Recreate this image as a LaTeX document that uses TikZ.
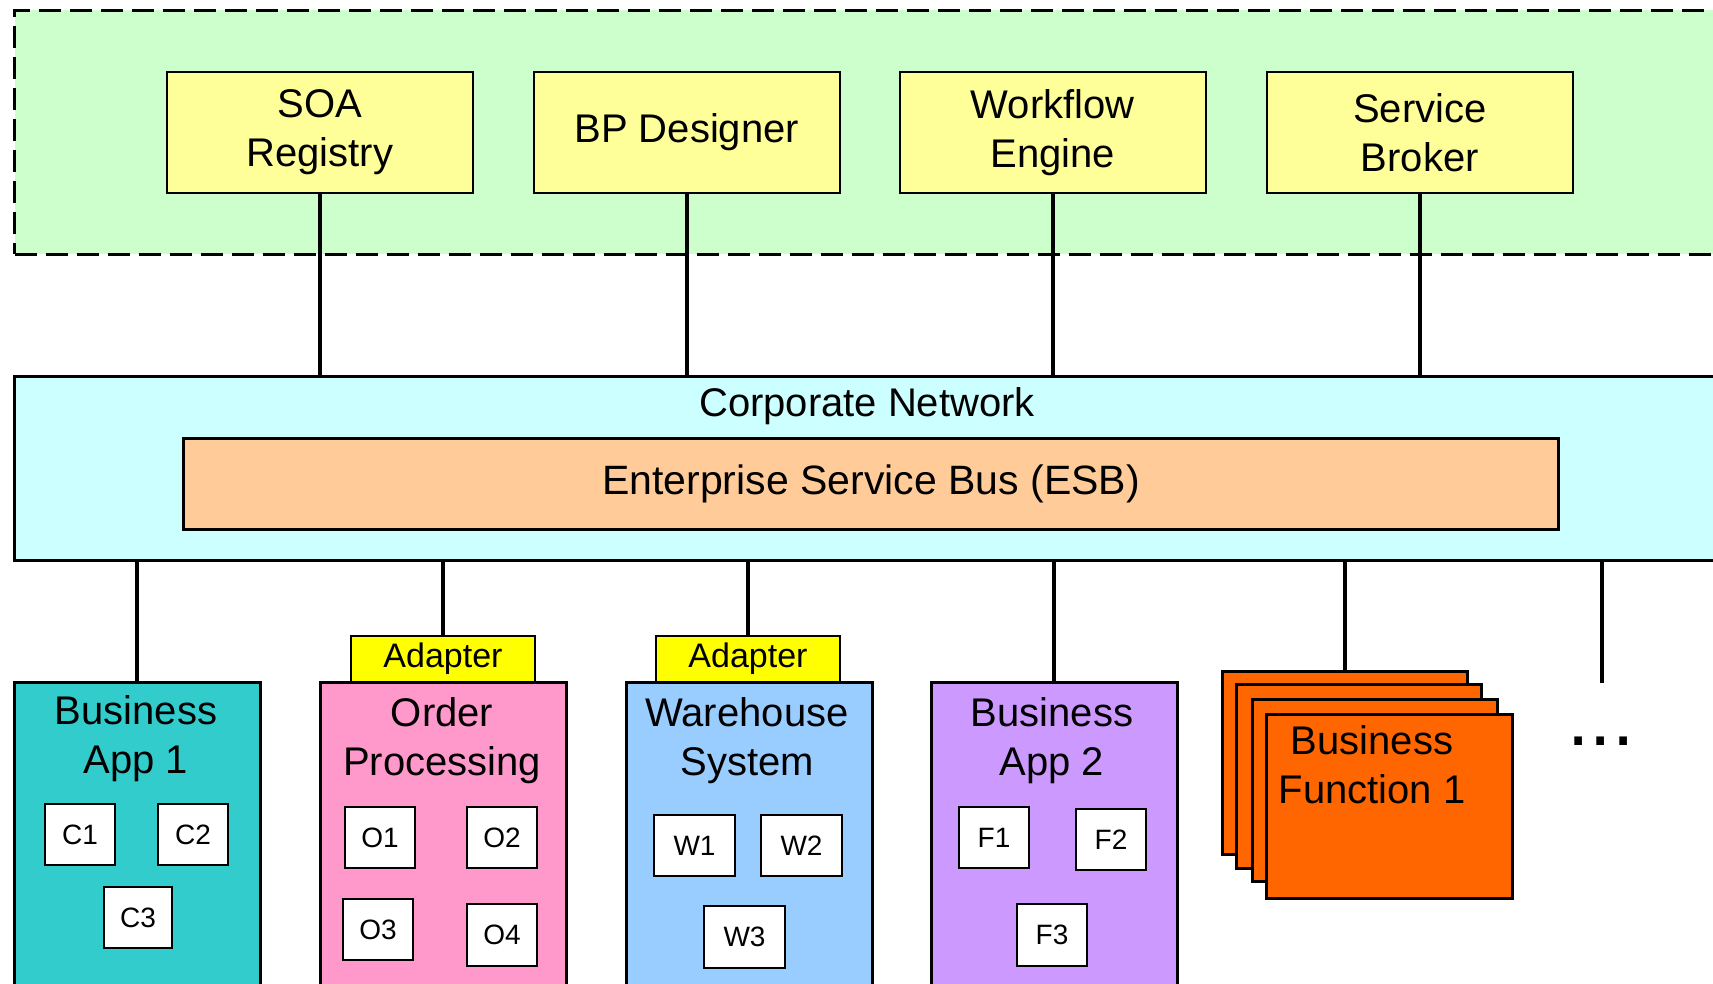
\documentclass[tikz,border=0pt]{standalone}
\usepackage{fontspec}
\setmainfont{Liberation Sans}
\definecolor{zonefill}{HTML}{CCFFCC}
\definecolor{toolfill}{HTML}{FFFF99}
\definecolor{netfill}{HTML}{CCFFFF}
\definecolor{esbfill}{HTML}{FFCC99}
\definecolor{adaptfill}{HTML}{FFFF00}
\definecolor{appAfill}{HTML}{33CCCC}
\definecolor{orderfill}{HTML}{FF99CC}
\definecolor{whfill}{HTML}{99CCFF}
\definecolor{appBfill}{HTML}{CC99FF}
\definecolor{bffill}{HTML}{FF6600}
\begin{document}
\begin{tikzpicture}[x=1pt,y=-1pt,
  box/.style={draw=black, line width=2pt, inner sep=0pt, anchor=north west},
  toolbox/.style={box, line width=1.6pt, fill=toolfill, minimum width=306pt, minimum height=121pt,
    font=\fontsize{40}{49}\selectfont, align=center},
  sysbox/.style={box, line width=2.5pt, minimum width=246pt, minimum height=330pt},
  lbl/.style={font=\fontsize{40}{49}\selectfont, align=center, inner sep=0pt},
  comp/.style={box, fill=white, font=\fontsize{28}{32}\selectfont},
  adapt/.style={box, fill=adaptfill, minimum width=184pt, minimum height=46pt,
    font=\fontsize{34}{40}\selectfont},
  card/.style={box, fill=bffill, line width=2.5pt},
  wire/.style={line width=4pt}]
\useasboundingbox (0,0) rectangle (1713,984);
\clip (0,0) rectangle (1713,984);

% management zone with the SOA tools
\node[box, fill=zonefill, line width=3pt, dash pattern=on 22pt off 9pt,
  minimum width=1730pt, minimum height=244pt] (zone) at (13,9) {};
\node[toolbox] (soa) at (166,71) {SOA\\Registry};
\node[toolbox] (bpd) at (533,71) {BP Designer};
\node[toolbox] (wfe) at (899,71) {Workflow\\Engine};
\node[toolbox] (sbk) at (1266,71) {Service\\Broker};

% corporate network and the bus
\node[box, fill=netfill, line width=3pt, minimum width=1730pt, minimum height=184pt] (net) at (13,375) {};
\node[lbl] (netlbl) at (867,406) {Corporate Network};
\node[box, fill=esbfill, line width=3pt, minimum width=1375pt, minimum height=91pt,
  font=\fontsize{41}{49}\selectfont] (esb) at (182,437) {Enterprise Service Bus (ESB)};

% tools attached to the network
\draw[wire] (soa.south) -- (soa.south |- net.north);
\draw[wire] (bpd.south) -- (bpd.south |- net.north);
\draw[wire] (wfe.south) -- (wfe.south |- net.north);
\draw[wire] (sbk.south) -- (sbk.south |- net.north);

% business application 1
\node[sysbox, fill=appAfill] (app1) at (13,681) {};
\node[lbl] (app1lbl) at (136,739) {Business\\App 1};
\node[comp, minimum width=70pt, minimum height=61pt] (c1) at (44,803) {C1};
\node[comp, minimum width=70pt, minimum height=61pt] (c2) at (157,803) {C2};
\node[comp, minimum width=68pt, minimum height=61pt] (c3) at (103,886) {C3};

% order processing
\node[adapt] (adA) at (350,635) {Adapter};
\node[sysbox, fill=orderfill] (ord) at (319,681) {};
\node[lbl] (ordlbl) at (442,741) {Order\\Processing};
\node[comp, minimum width=70pt, minimum height=61pt] (o1) at (344,806) {O1};
\node[comp, minimum width=70pt, minimum height=61pt] (o2) at (466,806) {O2};
\node[comp, minimum width=70pt, minimum height=61pt] (o3) at (342,898) {O3};
\node[comp, minimum width=70pt, minimum height=62pt] (o4) at (466,903) {O4};

% warehouse system
\node[adapt] (adB) at (655,635) {Adapter};
\node[sysbox, fill=whfill] (wh) at (625,681) {};
\node[lbl] (whlbl) at (747,741) {Warehouse\\System};
\node[comp, minimum width=81pt, minimum height=61pt] (w1) at (653,814) {W1};
\node[comp, minimum width=81pt, minimum height=61pt] (w2) at (760,814) {W2};
\node[comp, minimum width=81pt, minimum height=62pt] (w3) at (703,905) {W3};

% business application 2
\node[sysbox, fill=appBfill] (app2) at (930,681) {};
\node[lbl] (app2lbl) at (1052,741) {Business\\App 2};
\node[comp, minimum width=70pt, minimum height=61pt] (f1) at (958,806) {F1};
\node[comp, minimum width=70pt, minimum height=61pt] (f2) at (1075,808) {F2};
\node[comp, minimum width=70pt, minimum height=62pt] (f3) at (1016,903) {F3};

% stack of business functions
\node[card, minimum width=245pt, minimum height=183pt] (bf1) at (1221,670) {};
\node[card, minimum width=245pt, minimum height=184pt] (bf2) at (1235,683) {};
\node[card, minimum width=245pt, minimum height=182pt] (bf3) at (1251,698) {};
\node[card, minimum width=246pt, minimum height=184pt] (bf4) at (1265,713) {};
\node[lbl] (bflbl) at (1372,765) {Business\\Function 1};

% more systems
\node[font=\fontsize{80}{80}\selectfont, inner sep=0pt, anchor=base] (dots) at (1601,745) {...};
\coordinate (more) at (1601.5,683);

% systems attached to the network
\draw[wire] (app1.north) -- (app1.north |- net.south);
\draw[wire] (adA.north) -- (adA.north |- net.south);
\draw[wire] (adB.north) -- (adB.north |- net.south);
\draw[wire] (app2.north) -- (app2.north |- net.south);
\draw[wire] (bf1.north) -- (bf1.north |- net.south);
\draw[wire] (more) -- (more |- net.south);
\end{tikzpicture}
\end{document}
